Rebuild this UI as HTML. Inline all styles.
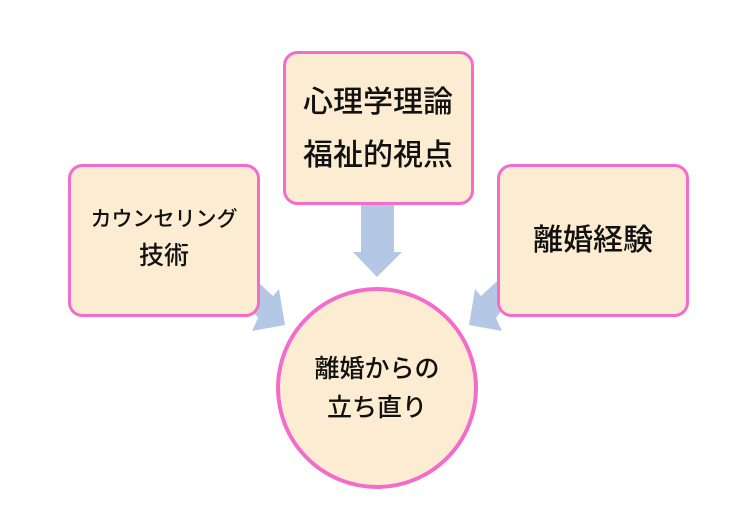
<!DOCTYPE html>
<html><head><meta charset="utf-8"><style>
html,body{margin:0;padding:0;background:#fff;width:753px;height:524px;overflow:hidden}
.f{font-family:"Liberation Sans","Noto Sans CJK JP",sans-serif}
</style></head><body>
<svg width="753" height="524" xmlns="http://www.w3.org/2000/svg" class="f">
<g fill="#b4c8e6">
<polygon points="361,205 394,205 394,252 402,252 377,277 353,252 361,252"/>
<polygon points="245,270 273,296 279,289 285,325 252,331 258,318 238,292"/>
<polygon points="509,270 481,296 475,289 469,325 502,331 496,318 516,292"/>
</g>
<g fill="#fcecd2" stroke="#f46ccb" stroke-width="3">
<rect x="69.5" y="165.5" width="189" height="150" rx="13"/>
<rect x="284.5" y="52.5" width="188" height="151" rx="13"/>
<rect x="498.5" y="165.5" width="189" height="150" rx="13"/>
<circle cx="377" cy="388" r="99" stroke-width="4"/>
</g>
<g fill="#111" text-anchor="middle" font-weight="500">
<text x="378" y="112" font-size="30">心理学理論</text>
<text x="378" y="165" font-size="30">福祉的視点</text>
<text x="164" y="226" font-size="21">カウンセリング</text>
<text x="164" y="264" font-size="25">技術</text>
<text x="593" y="250" font-size="30">離婚経験</text>
<text x="377" y="377" font-size="25">離婚からの</text>
<text x="377" y="416" font-size="25">立ち直り</text>
</g>
</svg>
</body></html>
